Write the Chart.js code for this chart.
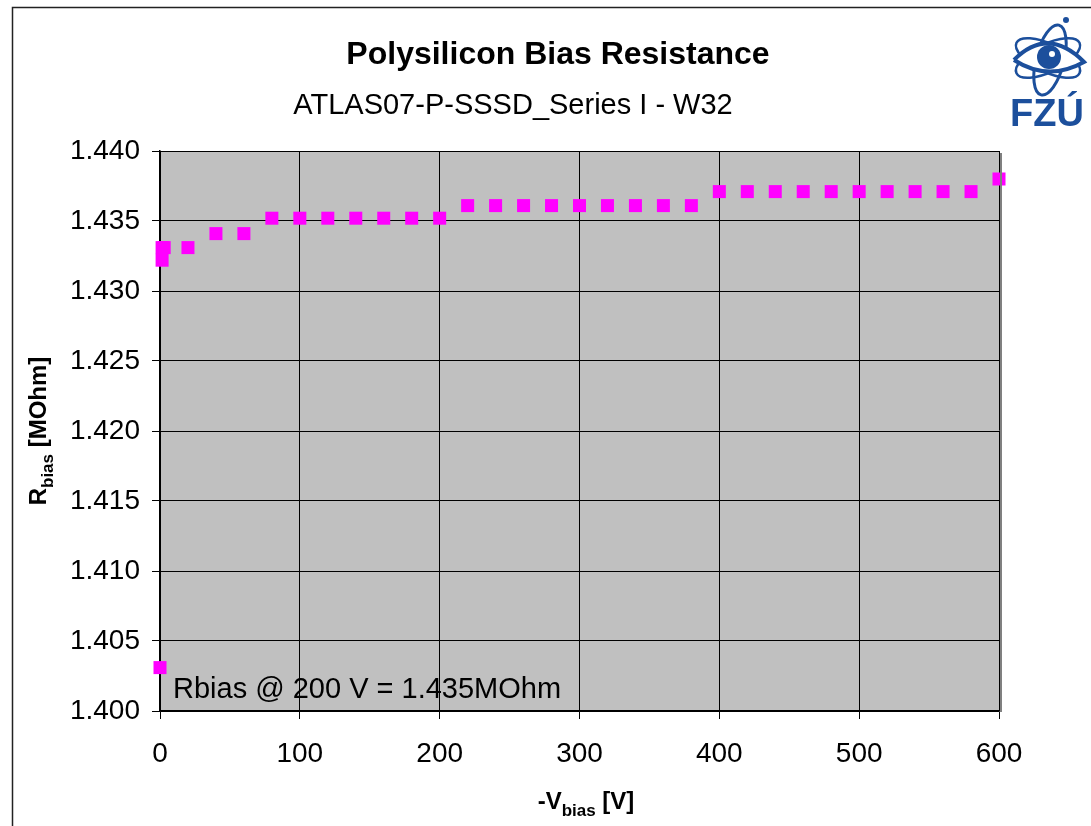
<!DOCTYPE html>
<html>
<head>
<meta charset="utf-8">
<script src="https://cdn.jsdelivr.net/npm/chart.js@4"></script>
<style>
html,body{margin:0;padding:0;background:#fff;}
#wrap{width:1091px;height:826px;}
</style>
</head>
<body>
<div id="wrap"><canvas id="c" width="1091" height="826"></canvas></div>
<script>
// ---- data ----
const vbias = [0, 1.5, 1.5, 3, 20, 40, 60, 80, 100, 120, 140, 160, 180, 200, 220, 240, 260, 280, 300, 320, 340, 360, 380, 400, 420, 440, 460, 480, 500, 520, 540, 560, 580, 600];
const rbias = [1.4031, 1.4322, 1.4331, 1.4331, 1.4331, 1.4341, 1.4341, 1.4352, 1.4352, 1.4352, 1.4352, 1.4352, 1.4352, 1.4352, 1.4361, 1.4361, 1.4361, 1.4361, 1.4361, 1.4361, 1.4361, 1.4361, 1.4361, 1.4371, 1.4371, 1.4371, 1.4371, 1.4371, 1.4371, 1.4371, 1.4371, 1.4371, 1.4371, 1.4380];
const xTicks = [0, 100, 200, 300, 400, 500, 600];
const yTicks = [1.400, 1.405, 1.410, 1.415, 1.420, 1.425, 1.430, 1.435, 1.440];
const titleText = 'Polysilicon Bias Resistance';
const subtitleText = 'ATLAS07-P-SSSD_Series I - W32';
const noteText = 'Rbias @ 200 V = 1.435MOhm';

const FONT = '"Liberation Sans", Arial, sans-serif';

const points = vbias.map((v, i) => ({x: v, y: rbias[i]}));

const decor = {
  id: 'decor',
  beforeDraw(chart) {
    const ctx = chart.ctx, a = chart.chartArea;
    ctx.save();
    ctx.fillStyle = '#fff';
    ctx.fillRect(0, 0, chart.width, chart.height);
    ctx.fillStyle = '#c0c0c0';
    ctx.fillRect(a.left, a.top, a.right - a.left, a.bottom - a.top);
    ctx.restore();
  },
  afterDraw(chart) {
    const ctx = chart.ctx, a = chart.chartArea;
    ctx.save();
    // outer frame (top & left visible)
    ctx.strokeStyle = '#222';
    ctx.lineWidth = 1.5;
    ctx.beginPath();
    ctx.moveTo(12.5, 830);
    ctx.lineTo(12.5, 7.5);
    ctx.lineTo(1095, 7.5);
    ctx.stroke();
    // plot shadow right
    ctx.strokeStyle = '#808080';
    ctx.lineWidth = 2;
    ctx.beginPath();
    ctx.moveTo(a.right + 2, a.top + 2);
    ctx.lineTo(a.right + 2, a.bottom + 1);
    ctx.stroke();

    // titles
    ctx.fillStyle = '#000';
    ctx.textAlign = 'center';
    ctx.textBaseline = 'middle';
    ctx.font = 'bold 32px ' + FONT;
    ctx.fillText(titleText, 558, 55);
    ctx.font = '29px ' + FONT;
    ctx.fillText(subtitleText, 513, 106);

    // note
    ctx.textAlign = 'left';
    ctx.font = '29px ' + FONT;
    ctx.fillText(noteText, 173, 690);

    // axis titles with subscript
    const drawSub = (parts, cx, cy) => {
      let w = 0;
      parts.forEach(p => { ctx.font = p.f; w += ctx.measureText(p.t).width; });
      let x = cx - w / 2;
      ctx.textAlign = 'left';
      ctx.textBaseline = 'alphabetic';
      parts.forEach(p => { ctx.font = p.f; ctx.fillText(p.t, x, cy + p.dy); x += ctx.measureText(p.t).width; });
    };
    const big = 'bold 24px ' + FONT, small = 'bold 17px ' + FONT;
    drawSub([{t: '-V', f: big, dy: 0}, {t: 'bias', f: small, dy: 7}, {t: ' [V]', f: big, dy: 0}], 586, 809);
    ctx.save();
    ctx.translate(46, 431);
    ctx.rotate(-Math.PI / 2);
    drawSub([{t: 'R', f: big, dy: 0}, {t: 'bias', f: small, dy: 7}, {t: ' [MOhm]', f: big, dy: 0}], 0, 0);
    ctx.restore();

    // FZU logo
    const blue = '#1c4f9c';
    ctx.strokeStyle = blue;
    ctx.fillStyle = blue;
    ctx.lineWidth = 2.5;
    const cx = 1048, cy = 58;
    ctx.beginPath(); ctx.ellipse(cx, cy, 35, 14, 0.45, 0, Math.PI * 2); ctx.stroke();
    ctx.beginPath(); ctx.ellipse(cx, cy, 35, 14, -0.45, 0, Math.PI * 2); ctx.stroke();
    ctx.lineWidth = 3;
    ctx.beginPath(); ctx.ellipse(cx + 2, cy + 2, 14, 36, 0.25, 0, Math.PI * 2); ctx.stroke();
    // eye
    ctx.beginPath();
    ctx.moveTo(cx - 34, cy + 2);
    ctx.quadraticCurveTo(cx, cy - 32, cx + 36, cy + 4);
    ctx.quadraticCurveTo(cx, cy + 24, cx - 34, cy + 2);
    ctx.fillStyle = '#fff';
    ctx.fill();
    ctx.lineWidth = 4;
    ctx.stroke();
    ctx.fillStyle = blue;
    ctx.beginPath(); ctx.arc(cx + 1, cy - 1, 12, 0, Math.PI * 2); ctx.fill();
    ctx.fillStyle = '#fff';
    ctx.beginPath(); ctx.arc(cx + 4, cy - 4, 3, 0, Math.PI * 2); ctx.fill();
    ctx.fillStyle = blue;
    ctx.beginPath(); ctx.arc(cx + 18, cy - 38, 3, 0, Math.PI * 2); ctx.fill();
    ctx.font = 'bold 38px "Liberation Sans Narrow", ' + FONT;
    ctx.textAlign = 'center';
    ctx.textBaseline = 'alphabetic';
    ctx.fillText('FZÚ', 1047, 126);
    ctx.restore();
  }
};

new Chart(document.getElementById('c'), {
  type: 'scatter',
  data: {
    datasets: [{
      data: points,
      pointStyle: 'rect',
      pointRadius: 9.2,
      pointHoverRadius: 9.2,
      backgroundColor: '#ff00ff',
      borderColor: '#ff00ff',
      borderWidth: 0,
      clip: false
    }]
  },
  options: {
    responsive: false,
    animation: false,
    events: [],
    layout: {padding: {top: 151, right: 92, left: 0, bottom: 0}},
    plugins: {legend: {display: false}, title: {display: false}, tooltip: {enabled: false}},
    scales: {
      x: {
        type: 'linear',
        min: 0, max: 600,
        afterBuildTicks: s => { s.ticks = xTicks.map(v => ({value: v})); },
        afterFit: s => { s.height = 115; },
        ticks: {color: '#000', font: {family: FONT, size: 28}, padding: 18, maxRotation: 0},
        grid: {color: '#000', lineWidth: 1, tickLength: 8, drawTicks: true},
        border: {display: true, color: '#000', width: 1.5}
      },
      y: {
        type: 'linear',
        min: 1.400, max: 1.440,
        afterBuildTicks: s => { s.ticks = yTicks.map(v => ({value: v})); },
        afterFit: s => { s.width = 160; },
        ticks: {color: '#000', font: {family: FONT, size: 28}, padding: 12, callback: v => Number(v).toFixed(3)},
        grid: {color: '#000', lineWidth: 1, tickLength: 8, drawTicks: true},
        border: {display: true, color: '#000', width: 1.5}
      }
    }
  },
  plugins: [decor]
});
</script>
</body>
</html>
